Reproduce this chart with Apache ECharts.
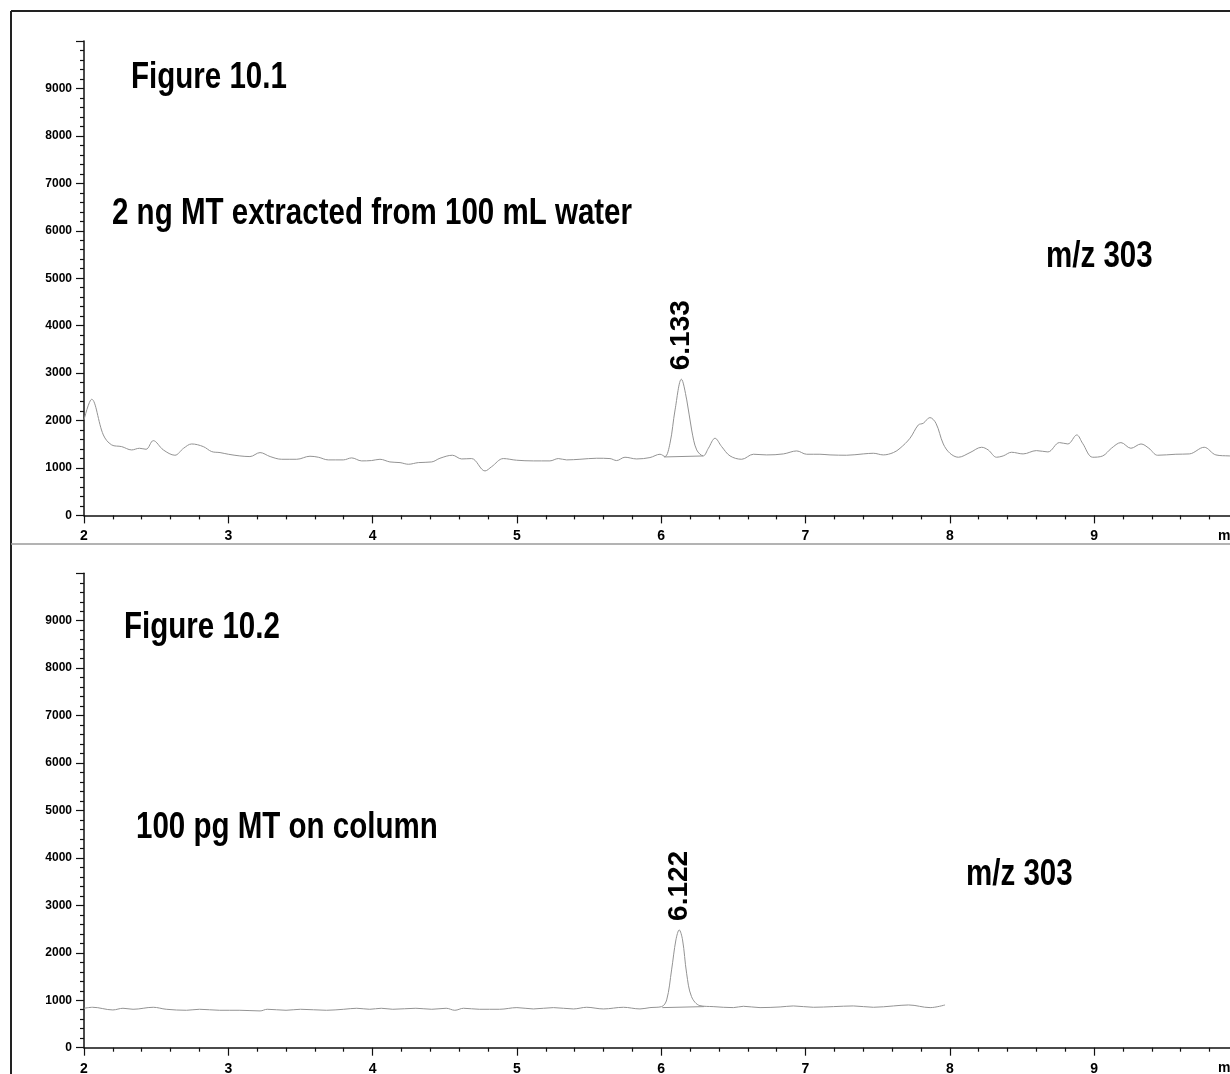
<!DOCTYPE html>
<html>
<head>
<meta charset="utf-8">
<script src="https://cdn.jsdelivr.net/npm/echarts@6/dist/echarts.min.js"></script>
<style>
  html, body { margin: 0; padding: 0; background: #fff; }
  #chart { width: 1230px; height: 1074px; }
</style>
</head>
<body>
<div id="chart"></div>
<script>
// retention time (min) / abundance
const topTimes = [2.0, 2.053, 2.134, 2.192, 2.261, 2.33, 2.384, 2.43, 2.48, 2.55, 2.63, 2.69, 2.746, 2.827, 2.885, 2.943,
  3.0, 3.08, 3.15, 3.22, 3.29, 3.37, 3.474, 3.566, 3.624, 3.693, 3.797, 3.855, 3.924, 3.993,
  4.051, 4.12, 4.19, 4.248, 4.317, 4.41, 4.467, 4.553, 4.617, 4.686, 4.779, 4.825, 4.906, 4.998,
  5.114, 5.229, 5.287, 5.345, 5.437, 5.553, 5.645, 5.691, 5.749, 5.83, 5.922, 5.992,
  6.026, 6.061, 6.096, 6.14, 6.177, 6.211, 6.246, 6.292, 6.327, 6.373, 6.419, 6.477, 6.558, 6.639, 6.731, 6.847, 6.939,
  7.008, 7.1, 7.17, 7.285, 7.4, 7.47, 7.539, 7.609, 7.655, 7.724, 7.782, 7.816, 7.862, 7.904, 7.955,
  8.001, 8.059, 8.14, 8.22, 8.266, 8.324, 8.37, 8.428, 8.508, 8.6, 8.68, 8.76, 8.818, 8.88, 8.92, 8.99,
  9.06, 9.12, 9.186, 9.255, 9.325, 9.38, 9.44, 9.567, 9.66, 9.763, 9.844, 9.936, 10.0]
const topValues = [2012, 2448, 1696, 1485, 1450, 1380, 1415, 1394, 1576, 1380, 1268, 1415, 1506, 1450, 1345, 1324,
  1289, 1254, 1240, 1324, 1240, 1183, 1183, 1247, 1226, 1170, 1170, 1212, 1149, 1156,
  1183, 1127, 1113, 1078, 1113, 1127, 1205, 1268, 1190, 1198, 937, 1027, 1198, 1163,
  1149, 1149, 1198, 1170, 1183, 1205, 1198, 1156, 1226, 1190, 1219, 1289,
  1240, 1521, 2223, 2870, 2434, 1801, 1380, 1254, 1415, 1626, 1450, 1254, 1183, 1289, 1275, 1296, 1359,
  1289, 1289, 1275, 1268, 1296, 1310, 1275, 1324, 1415, 1626, 1907, 1942, 2062, 1942, 1506,
  1310, 1226, 1324, 1436, 1380, 1226, 1254, 1331, 1296, 1366, 1338, 1535, 1506, 1696, 1521, 1226,
  1254, 1415, 1535, 1415, 1506, 1415, 1268, 1289, 1296, 1436, 1275, 1254, 1250]

const bottomTimes = [2.0, 2.06, 2.2, 2.27, 2.34, 2.48, 2.57, 2.71, 2.8, 2.94, 3.08, 3.22, 3.27, 3.4, 3.5, 3.68, 3.8, 3.89, 3.98,
  4.06, 4.14, 4.3, 4.41, 4.51, 4.57, 4.63, 4.74, 4.88, 5.0, 5.114, 5.253, 5.392, 5.484, 5.599, 5.738, 5.853, 5.922,
  6.003, 6.038, 6.072, 6.102, 6.125, 6.148, 6.176, 6.21, 6.268, 6.36, 6.5, 6.57, 6.685, 6.824, 6.916,
  7.055, 7.194, 7.332, 7.471, 7.61, 7.714, 7.864, 7.967]
const bottomValues = [831, 852, 796, 831, 810, 852, 810, 789, 810, 789, 789, 775, 810, 789, 810, 789, 810, 831, 810,
  831, 810, 831, 810, 831, 789, 831, 810, 810, 845, 817, 845, 817, 852, 817, 852, 817, 845,
  866, 1007, 1640, 2272, 2483, 2272, 1570, 1077, 887, 866, 845, 873, 845, 859, 880,
  852, 866, 880, 852, 880, 901, 845, 901]

// integration baselines drawn under the peaks
const topBaseTimes = [6.02, 6.29]
const topBaseValues = [1232, 1253]
const bottomBaseTimes = [6.008, 6.296]
const bottomBaseValues = [845, 866]

const peakTop = [6.14, 2870, '6.133']
const peakBottom = [6.125, 2483, '6.122']

const yTicks = [0, 1000, 2000, 3000, 4000, 5000, 6000, 7000, 8000, 9000]

const pairs = (xs, ys) => xs.map((x, i) => [x, ys[i]])

const chart = echarts.init(document.getElementById('chart'))

const sansFont = '"Liberation Sans", Arial, sans-serif'
const traceColor = '#939393'

function xAxisFor(gridIndex) {
  return {
    type: 'value',
    gridIndex: gridIndex,
    min: 2,
    max: 10,
    interval: 1,
    axisLine: { show: true, onZero: false, lineStyle: { color: '#111', width: 1.5 } },
    axisTick: { show: true, length: 8, lineStyle: { color: '#111', width: 1.2 } },
    minorTick: { show: true, splitNumber: 5, length: 4, lineStyle: { color: '#111', width: 1.2 } },
    splitLine: { show: false },
    axisLabel: {
      margin: 14,
      color: '#000',
      fontWeight: 'bold',
      fontSize: 14,
      fontFamily: sansFont,
      formatter: v => (v === 10 ? '' : String(v))
    }
  }
}

function yAxisFor(gridIndex) {
  return {
    type: 'value',
    gridIndex: gridIndex,
    min: 0,
    max: 10000,
    interval: 1000,
    axisLine: { show: true, lineStyle: { color: '#111', width: 1.5 } },
    axisTick: { show: true, length: 8, lineStyle: { color: '#111', width: 1.2 } },
    minorTick: { show: true, splitNumber: 5, length: 4, lineStyle: { color: '#111', width: 1.2 } },
    splitLine: { show: false },
    axisLabel: {
      margin: 12,
      color: '#000',
      fontWeight: 'bold',
      fontSize: 12,
      fontFamily: sansFont,
      formatter: v => (yTicks.indexOf(v) >= 0 ? String(v) : '')
    }
  }
}

function peakLabel(gridIndex, peak) {
  return {
    type: 'scatter',
    xAxisIndex: gridIndex,
    yAxisIndex: gridIndex,
    symbolSize: 0,
    silent: true,
    itemStyle: { color: '#000', opacity: 1 },
    data: [[peak[0], peak[1]]],
    label: {
      show: true,
      position: 'top',
      distance: 9,
      rotate: 90,
      align: 'left',
      verticalAlign: 'middle',
      formatter: peak[2],
      color: '#000',
      opacity: 1,
      textBorderWidth: 0,
      fontWeight: 'bold',
      fontSize: 28,
      fontFamily: sansFont
    }
  }
}

function line(gridIndex, data, smooth) {
  return {
    type: 'line',
    xAxisIndex: gridIndex,
    yAxisIndex: gridIndex,
    data: data,
    smooth: smooth,
    symbol: 'none',
    silent: true,
    lineStyle: { color: traceColor, width: 1 }
  }
}

// condensed bold captions (no narrow face installed, so squeeze horizontally)
function bigText(x, y, text) {
  return {
    type: 'text',
    x: x,
    y: y,
    scaleX: 0.82,
    style: {
      text: text,
      fill: '#000',
      font: 'bold 36px ' + sansFont,
      verticalAlign: 'middle'
    }
  }
}

chart.setOption({
  animation: false,
  grid: [
    { left: 84, top: 41, width: 1154.4, height: 474.4, outerBoundsMode: 'none' },
    { left: 84, top: 573.3, width: 1154.4, height: 474.4, outerBoundsMode: 'none' }
  ],
  xAxis: [xAxisFor(0), xAxisFor(1)],
  yAxis: [yAxisFor(0), yAxisFor(1)],
  series: [
    line(0, pairs(topTimes, topValues), 0.35),
    line(0, pairs(topBaseTimes, topBaseValues), false),
    line(1, pairs(bottomTimes, bottomValues), 0.35),
    line(1, pairs(bottomBaseTimes, bottomBaseValues), false),
    peakLabel(0, peakTop),
    peakLabel(1, peakBottom)
  ],
  graphic: [
    // outer frame and the divider between the two panels
    { type: 'line', shape: { x1: 11, y1: 11, x2: 1230, y2: 11 }, style: { stroke: '#222', lineWidth: 2 } },
    { type: 'line', shape: { x1: 11, y1: 11, x2: 11, y2: 1074 }, style: { stroke: '#222', lineWidth: 2 } },
    { type: 'line', shape: { x1: 11, y1: 544, x2: 1230, y2: 544 }, style: { stroke: '#9a9a9a', lineWidth: 1.5 } },
    bigText(131, 78, 'Figure 10.1'),
    bigText(112, 214, '2 ng MT extracted from 100 mL water'),
    bigText(1046, 257.5, 'm/z 303'),
    bigText(124, 628.5, 'Figure 10.2'),
    bigText(136, 828, '100 pg MT on column'),
    bigText(966, 875, 'm/z 303'),
    {
      type: 'text', x: 1218, y: 536,
      style: { text: 'min', fill: '#000', font: 'bold 14px ' + sansFont, verticalAlign: 'middle' }
    },
    {
      type: 'text', x: 1218, y: 1068,
      style: { text: 'min', fill: '#000', font: 'bold 14px ' + sansFont, verticalAlign: 'middle' }
    }
  ]
})
</script>
</body>
</html>
